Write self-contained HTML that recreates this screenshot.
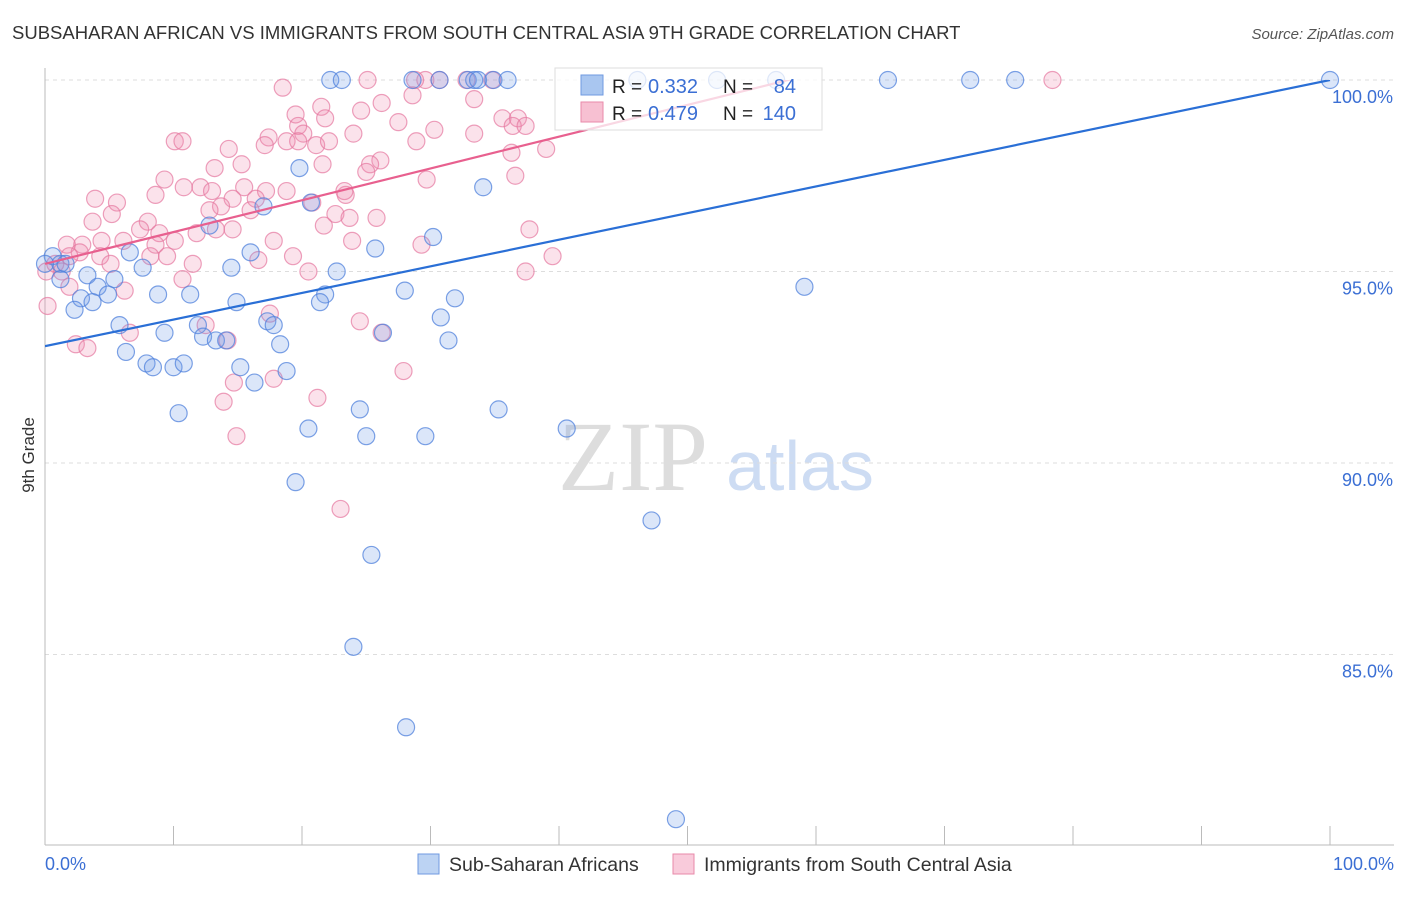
<!DOCTYPE html>
<html><head><meta charset="utf-8"><style>
body{margin:0;background:#fff;font-family:"Liberation Sans",sans-serif;}
svg text{font-family:"Liberation Sans",sans-serif;}
</style></head><body>
<svg id="chart" width="1406" height="892">
<text x="12" y="39" font-size="18.5" fill="#333">SUBSAHARAN AFRICAN VS IMMIGRANTS FROM SOUTH CENTRAL ASIA 9TH GRADE CORRELATION CHART</text>
<text x="1394" y="39" font-size="15" fill="#555" text-anchor="end" font-style="italic">Source: ZipAtlas.com</text>
<text x="633" y="490" font-size="100" fill="#ddd" text-anchor="middle" style="font-family:'Liberation Serif',serif">ZIP</text>
<text x="800" y="490" font-size="70" fill="#cddcf3" text-anchor="middle">atlas</text>
<text x="34" y="455" font-size="17" fill="#333" text-anchor="middle" transform="rotate(-90 34 455)">9th Grade</text>
<g id="grid"></g><g id="marks"></g><g id="lines"></g>
<g>
<rect x="555" y="68" width="267" height="62" fill="#fff" fill-opacity="0.75" stroke="#ddd"/>
<rect x="581" y="75" width="22" height="20" fill="#a9c6f0" stroke="#6f9ae0"/>
<rect x="581" y="102" width="22" height="20" fill="#f7c0d2" stroke="#e88aaa"/>
<text x="612" y="93" font-size="19" fill="#222">R =</text>
<text x="648" y="93" font-size="20" fill="#3b6fd4">0.332</text>
<text x="723" y="93" font-size="19" fill="#222">N =</text>
<text x="796" y="93" font-size="20" fill="#3b6fd4" text-anchor="end">84</text>
<text x="612" y="120" font-size="19" fill="#222">R =</text>
<text x="648" y="120" font-size="20" fill="#3b6fd4">0.479</text>
<text x="723" y="120" font-size="19" fill="#222">N =</text>
<text x="796" y="120" font-size="20" fill="#3b6fd4" text-anchor="end">140</text>
</g>
<g>
<rect x="418" y="854" width="21" height="20" fill="#bcd3f3" stroke="#6f9ae0"/>
<text x="449" y="871" font-size="19.5" fill="#333">Sub-Saharan Africans</text>
<rect x="673" y="854" width="21" height="20" fill="#f9cbdb" stroke="#e88aaa"/>
<text x="704" y="871" font-size="19.5" fill="#333">Immigrants from South Central Asia</text>
</g>
</svg>
<script>
const yTicks=[100,95,90,85];
const xTickLabels=["0.0%","100.0%"];
const blueX=[22.2,23.1,28.6,30.7,32.9,33.4,33.7,34.9,36.0,46.1,52.3,56.9,65.6,72.0,75.5,100,42.5,34.1,19.8,20.7,17.0,12.8,25.7,30.2,16.0,14.5,22.7,0.6,1.2,1.6,3.3,5.4,7.6,6.6,4.1,4.9,2.8,3.7,2.3,8.8,11.3,14.9,21.8,21.4,28.0,31.9,30.8,5.8,9.3,11.9,17.3,17.8,12.3,13.3,14.1,18.3,26.3,31.4,6.3,7.9,8.4,10.0,10.8,15.2,16.3,18.8,10.4,24.5,35.3,20.5,25.0,29.6,40.6,19.5,47.2,25.4,24.0,28.1,49.1,59.1,0,1.2];
const blueY=[100,100,100,100,100,100,100,100,100,100,100,100,100,100,100,100,99.9,97.2,97.7,96.8,96.7,96.2,95.6,95.9,95.5,95.1,95.0,95.4,95.2,95.2,94.9,94.8,95.1,95.5,94.6,94.4,94.3,94.2,94.0,94.4,94.4,94.2,94.4,94.2,94.5,94.3,93.8,93.6,93.4,93.6,93.7,93.6,93.3,93.2,93.2,93.1,93.4,93.2,92.9,92.6,92.5,92.5,92.6,92.5,92.1,92.4,91.3,91.4,91.4,90.9,90.7,90.7,90.9,89.5,88.5,87.6,85.2,83.1,80.7,94.6,95.2,94.8];
const pinkX=[18.5,25.1,29.6,30.7,34.8,78.4,32.8,28.6,33.4,26.2,21.5,19.5,24.6,28.8,19.7,21.8,20.1,27.5,35.6,36.8,36.4,37.4,30.3,24.0,28.9,17.4,18.8,17.1,19.7,21.1,22.1,10.1,10.7,14.3,39.0,36.3,33.4,26.1,25.3,25.0,21.6,15.3,13.2,9.3,10.8,12.1,13.0,15.5,17.2,18.8,14.6,16.4,13.7,12.8,16.0,8.6,3.9,5.6,5.2,8.0,3.7,7.4,8.9,10.1,11.8,13.3,14.6,17.8,1.7,2.9,4.4,6.1,8.6,4.3,5.1,2.7,1.9,11.5,10.7,9.5,8.2,19.3,20.5,16.6,6.2,1.9,23.4,20.8,21.7,22.6,23.7,25.8,23.3,37.7,39.5,37.4,29.3,23.9,29.7,36.6,24.5,26.2,27.9,21.2,14.7,13.9,14.9,23.0,2.4,3.3,6.6,12.5,14.2,17.8,17.5,0.2,0.1,0.8,1.3];
const pinkY=[99.8,100,100,100,100,100,100,99.6,99.5,99.4,99.3,99.1,99.2,100,98.8,99.0,98.6,98.9,99.0,99.0,98.8,98.8,98.7,98.6,98.4,98.5,98.4,98.3,98.4,98.3,98.4,98.4,98.4,98.2,98.2,98.1,98.6,97.9,97.8,97.6,97.8,97.8,97.7,97.4,97.2,97.2,97.1,97.2,97.1,97.1,96.9,96.9,96.7,96.6,96.6,97.0,96.9,96.8,96.5,96.3,96.3,96.1,96.0,95.8,96.0,96.1,96.1,95.8,95.7,95.7,95.8,95.8,95.7,95.4,95.2,95.5,95.4,95.2,94.8,95.4,95.4,95.4,95.0,95.3,94.5,94.6,97.0,96.8,96.2,96.5,96.4,96.4,97.1,96.1,95.4,95.0,95.7,95.8,97.4,97.5,93.7,93.4,92.4,91.7,92.1,91.6,90.7,88.8,93.1,93.0,93.4,93.6,93.2,92.2,93.9,94.1,95.0,95.2,95.0];
const blueTrend=[93.05,100];
const pinkTrend=[95.2,103.5];
const NS="http://www.w3.org/2000/svg";
const X=v=>45+v*12.85, Y=v=>80+(100-v)*38.3;
function mk(tag,attrs,parent){const e=document.createElementNS(NS,tag);for(const k in attrs)e.setAttribute(k,attrs[k]);parent.appendChild(e);return e;}
const grid=document.getElementById('grid'),marks=document.getElementById('marks'),lines=document.getElementById('lines');
yTicks.forEach(t=>{
 const l=mk('line',{x1:45,x2:1394,y1:Y(t),y2:Y(t),stroke:'#ddd','stroke-dasharray':'4,4'},grid);
 
 
 const tx=mk('text',{x:1393,y:Y(t)+23,'font-size':18,fill:'#3b6fd4','text-anchor':'end'},grid);
 tx.textContent=t.toFixed(1)+'%';
 
 
});
const ax=mk('line',{x1:45,x2:45,y1:68,y2:845,stroke:'#bbb'},grid);


const bx=mk('line',{x1:45,x2:1394,y1:845,y2:845,stroke:'#bbb'},grid);


for(let i=1;i<=10;i++){const t=mk('line',{x1:X(i*10),x2:X(i*10),y1:826,y2:845,stroke:'#bbb'},grid);
 
 }
[[0,'start',45],[100,'end',1394]].forEach((d,i)=>{const t=mk('text',{x:d[2],y:870,'font-size':18,fill:'#3b6fd4','text-anchor':d[1]},grid);t.textContent=xTickLabels[i];
 
 });
function pts(xs,ys,fill,stroke,name){xs.forEach((x,i)=>{const c=mk('circle',{cx:X(x),cy:Y(ys[i]),r:8.5,fill:fill,stroke:stroke,'stroke-width':1.2},marks);
 
 });}
pts(pinkX,pinkY,'rgba(240,140,175,0.25)','rgba(230,120,160,0.7)','point-immigrants');
pts(blueX,blueY,'rgba(110,155,230,0.25)','rgba(80,130,220,0.75)','point-sub-saharan');
mk('clipPath',{id:'cp'},lines).appendChild(document.createElementNS(NS,'rect'));
const cr=lines.querySelector('clipPath rect');cr.setAttribute('x',45);cr.setAttribute('y',80);cr.setAttribute('width',1300);cr.setAttribute('height',800);
const bl=mk('line',{x1:X(0),y1:Y(blueTrend[0]),x2:X(100),y2:Y(blueTrend[1]),stroke:'#2a6fd6','stroke-width':2.2,'clip-path':'url(#cp)'},lines);


const pl=mk('line',{x1:X(0),y1:Y(pinkTrend[0]),x2:X(100),y2:Y(pinkTrend[1]),stroke:'#e8608f','stroke-width':2.2,'clip-path':'url(#cp)'},lines);


</script>
</body></html>
